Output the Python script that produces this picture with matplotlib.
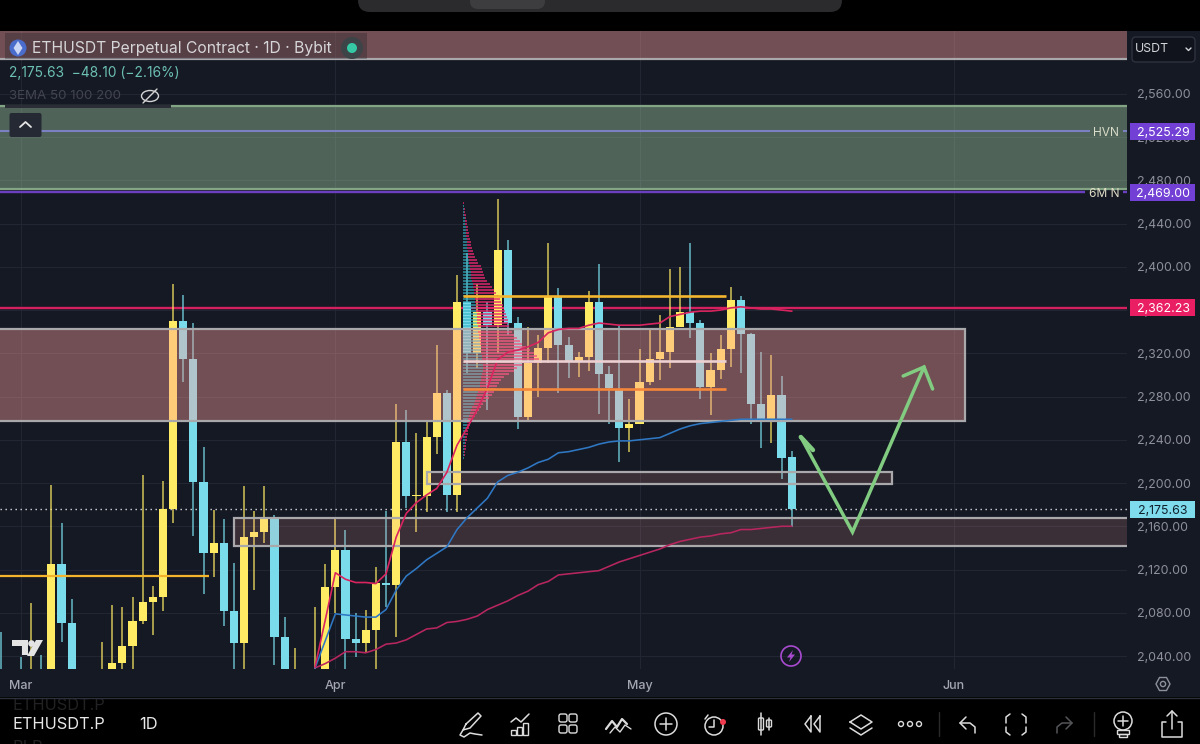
import numpy as np
import matplotlib
matplotlib.use("Agg")
import matplotlib.pyplot as plt
from matplotlib.patches import Rectangle, Circle, Ellipse, FancyBboxPatch, Polygon

plt.rcParams["font.family"] = ["Inter", "DejaVu Sans"]

# ----------------------------
# Daily candles (day 0 = 1 Mar)
# ----------------------------
days = [-2, 0, 1, 2, 3, 4, 5, 8, 9, 10, 11, 12, 13, 14, 15, 16, 17, 18, 19, 20, 21, 22, 23, 24, 25, 26, 27,
        29, 30, 31, 32, 33, 34, 35, 36, 37, 38, 39, 40, 41, 42, 43, 44, 45, 46, 47, 48, 49, 50, 51, 52, 53,
        54, 55, 56, 57, 58, 59, 60, 61, 62, 63, 64, 65, 66, 67, 68, 69, 70, 71, 72, 73, 74, 75, 76]
opens = [2020, 2025, 2015, 2022, 2012, 2125, 2071, 2000, 2020, 2034, 2049, 2072, 2090, 2095, 2176, 2350, 2315, 2201, 2135, 2145, 2082, 2052, 2150, 2155, 2167, 2058, 2000,
         2020, 2026, 2104, 2138, 2056, 2052, 2064, 2108, 2106, 2238, 2188, 2188, 2243, 2283, 2189, 2367, 2320, 2358, 2346, 2416, 2348, 2261, 2311, 2325, 2372,
         2328, 2313, 2317, 2367, 2301, 2286, 2251, 2255, 2293, 2315, 2321, 2344, 2358, 2348, 2289, 2305, 2324, 2369, 2338, 2273, 2256, 2281, 2223.73]
closes = [2010, 2015, 2022, 2012, 2125, 2071, 2015, 2020, 2034, 2049, 2072, 2090, 2095, 2176, 2350, 2315, 2201, 2135, 2145, 2082, 2052, 2150, 2155, 2167, 2058, 2015, 2015,
          2026, 2104, 2138, 2056, 2052, 2064, 2108, 2106, 2238, 2188, 2189, 2243, 2283, 2189, 2367, 2320, 2358, 2346, 2416, 2348, 2261, 2311, 2325, 2372, 2328,
          2313, 2317, 2367, 2301, 2288, 2251, 2255, 2293, 2315, 2321, 2344, 2358, 2348, 2289, 2305, 2324, 2369, 2338, 2273, 2256, 2281, 2223, 2175.63]
highs = [2062, 2039, 2089, 2041, 2198, 2163, 2093, 2053, 2087, 2085, 2095, 2207, 2105, 2202, 2384, 2374, 2348, 2233, 2175, 2167, 2126, 2197, 2174, 2197, 2170, 2076, 2047,
         2085, 2125, 2167, 2157, 2080, 2083, 2122, 2174, 2273, 2268, 2246, 2257, 2328, 2286, 2392, 2413, 2384, 2367, 2463, 2425, 2354, 2344, 2337, 2422, 2380,
         2335, 2321, 2378, 2403, 2308, 2345, 2278, 2324, 2342, 2355, 2398, 2400, 2422, 2351, 2320, 2337, 2381, 2373, 2339, 2321, 2318, 2299, 2230]
lows = [2005, 2005, 2005, 2005, 2005, 2053, 2000, 1990, 2010, 2020, 2020, 2070, 2059, 2082, 2163, 2293, 2151, 2097, 2113, 2068, 2020, 2020, 2101, 2145, 2032, 2000, 1990,
        2010, 2015, 2080, 2020, 2039, 2043, 2020, 2085, 2058, 2177, 2155, 2173, 2227, 2173, 2173, 2302, 2306, 2268, 2320, 2337, 2250, 2257, 2280, 2311, 2283,
        2297, 2298, 2304, 2264, 2255, 2219, 2229, 2255, 2291, 2295, 2306, 2344, 2334, 2278, 2263, 2296, 2307, 2302, 2255, 2232, 2237, 2204, 2159]

# ----------------------------
# EMA lines, one value per day from day 29
# ----------------------------
ema_days = list(range(29, 77))
ema_fast = [2030, 2073, 2117, 2111, 2108, 2108, 2107, 2116, 2150, 2172, 2182, 2189, 2195, 2210, 2235, 2251,
            2268, 2288, 2314, 2321, 2323, 2326, 2330, 2339, 2342, 2343, 2343, 2346, 2348, 2347, 2346, 2346,
            2346, 2347, 2348, 2354, 2356, 2358, 2359, 2359, 2360, 2362, 2363, 2362, 2361, 2361, 2360, 2359]
ema_mid = [2029, 2054, 2079, 2078, 2077, 2076, 2076, 2083, 2101, 2114, 2121, 2129, 2135, 2141, 2157, 2168,
           2177, 2186, 2201, 2207, 2210, 2214, 2219, 2222, 2228, 2229, 2231, 2233, 2236, 2238, 2239, 2239,
           2240, 2241, 2242, 2246, 2250, 2253, 2255, 2256, 2257, 2258, 2259, 2259, 2259, 2259, 2259, 2259]
ema_slow = [2029, 2033, 2038, 2044, 2044, 2043, 2046, 2051, 2052, 2055, 2060, 2065, 2066, 2071, 2072, 2074,
            2077, 2083, 2087, 2091, 2096, 2100, 2106, 2109, 2115, 2116, 2117, 2118, 2119, 2123, 2127, 2130,
            2133, 2136, 2139, 2143, 2146, 2148, 2150, 2151, 2153, 2154, 2157, 2157, 2158, 2159, 2160, 2160]

# ----------------------------
# Volume profile rows, top row first
# ----------------------------
vp_total = [1, 1, 2, 2, 3, 3, 4, 4, 5, 5,
            6, 6, 7, 8, 8, 9, 10, 11, 12, 14,
            15, 18, 19, 20, 21, 22, 24, 27, 29, 31,
            33, 36, 37, 38, 40, 40, 42, 43, 44, 45,
            45, 46, 47, 49, 51, 54, 57, 59, 63, 67,
            71, 74, 76, 77, 59, 54, 51, 46, 41, 38,
            36, 34, 33, 31, 29, 26, 23, 20, 18, 16,
            14, 12, 10, 8, 7, 6, 5, 5, 4, 4,
            3, 3, 3, 2, 2, 1]
vp_up = [0, 1, 1, 1, 1, 2, 2, 2, 3, 3,
         3, 3, 4, 4, 4, 4, 5, 5, 5, 6,
         6, 7, 7, 8, 8, 8, 9, 10, 10, 11,
         11, 12, 12, 12, 13, 13, 13, 14, 14, 14,
         14, 15, 15, 15, 16, 16, 17, 17, 18, 18,
         18, 19, 19, 20, 20, 20, 20, 19, 18, 18,
         17, 17, 16, 15, 14, 13, 12, 11, 9, 8,
         7, 6, 5, 4, 4, 3, 3, 2, 2, 2,
         2, 1, 1, 1, 1, 1]

# ----------------------------
# Levels and zones
# ----------------------------
price_ticks = [2040, 2080, 2120, 2160, 2200, 2240, 2280, 2320, 2360, 2400, 2440, 2480, 2520, 2560]
month_days = [0, 31, 61, 92]
month_labels = ["Mar", "Apr", "May", "Jun"]

last_price = 2175.63
hvn_level = 2525.29
six_m_level = 2469.00
red_level = 2362.23

plan_days = [76.9, 82.0, 89.05]
plan_prices = [2242.6, 2154.7, 2307.3]

BG = "#151924"
YELLOW = "#ffeb64"
TEAL = "#7adcea"
ZONE = (1.0, 0.63, 0.615)
GREY_EDGE = "#a9a9ab"
TICK = "#8e919b"

fig = plt.figure(figsize=(12, 7.44), dpi=100, facecolor=BG)

# chart pane: 10.14 px per day, 1.081 px per price unit
ax = fig.add_axes([0, 75 / 744, 1127 / 1200, 638 / 744], facecolor=BG)
ax.set_xlim(-2.07, 109.07)
ax.set_ylim(2028.0, 2618.1)

for s in ax.spines.values():
    s.set_visible(False)

ax.yaxis.tick_right()
ax.set_yticks(price_ticks)
ax.set_yticklabels([f"{p:,.2f}" for p in price_ticks], fontsize=8.9, color=TICK)
ax.set_xticks(month_days)
ax.set_xticklabels(month_labels, fontsize=9, color="#a4a7b0", fontweight="medium")
ax.tick_params(axis="y", length=0, pad=7.4)
ax.tick_params(axis="x", length=0, pad=7.8)
ax.grid(True, color="#222632", lw=0.8)
ax.set_axisbelow(True)

# ----------------------------
# Levels under the candles
# ----------------------------
ax.axhline(red_level, color="#d5205f", lw=1.7, zorder=1.5)
ax.axhline(last_price, color="#d8dade", lw=1, ls=(0, (1, 2.6)), zorder=1.5)

# ----------------------------
# Candles
# ----------------------------
o = np.array(opens)
c = np.array(closes)
cols = [YELLOW if b >= a else TEAL for a, b in zip(opens, closes)]

ax.vlines(days, lows, highs, colors=cols, lw=1.15, alpha=0.78, zorder=3)
ax.bar(days, np.abs(c - o), bottom=np.minimum(o, c), width=0.8, color=cols, zorder=3.2)

# ----------------------------
# Volume profile
# ----------------------------
vp_prices = 2459 - 2.775 * np.arange(len(vp_total))
vp_left = 43.6
vp_up = np.array(vp_up) / 10.14
vp_total = np.array(vp_total) / 10.14

ax.barh(vp_prices, vp_up, left=vp_left, height=2.1, color="#33b2c4", alpha=0.62, zorder=4, lw=0)
ax.barh(vp_prices, vp_total - vp_up, left=vp_left + vp_up, height=2.1, color="#e8286f", alpha=0.72, zorder=4, lw=0)

# ----------------------------
# Zones
# ----------------------------
def zone(x0, x1, y0, y1, face, alpha, edge, lw=1.6):
    ax.add_patch(Rectangle((x0, y0), x1 - x0, y1 - y0, facecolor=(*face, alpha),
                           edgecolor=edge, lw=lw, zorder=5))

zone(-6, 115, 2592, 2700, ZONE, 0.40, GREY_EDGE)
zone(-6, 115, 2472, 2549, (0.66, 0.83, 0.67), 0.40, "#84a585")
zone(-6, 93.1, 2257.5, 2342.5, ZONE, 0.40, GREY_EDGE)
zone(40.04, 85.9, 2199, 2210, ZONE, 0.16, GREY_EDGE)
zone(21.0, 115, 2142, 2167.6, ZONE, 0.16, GREY_EDGE)

# ----------------------------
# EMAs
# ----------------------------
ax.plot(ema_days, ema_slow, color="#b8265f", lw=1.15, zorder=6)
ax.plot(ema_days, ema_mid, color="#2f78c4", lw=1.15, zorder=6)
ax.plot(ema_days, ema_fast, color="#d9245f", lw=1.2, zorder=6)

# ----------------------------
# Drawn levels
# ----------------------------
ax.hlines(2114, -3, 18.55, color="#f4b52c", lw=1.6, zorder=6)
ax.hlines(2373, 43.6, 69.5, color="#f4b62e", lw=1.9, zorder=6)
ax.hlines(2313, 43.6, 69.5, color="#ecd0d2", lw=1.9, zorder=6)
ax.hlines(2287, 43.6, 69.5, color="#f5873a", lw=1.9, zorder=6)

ax.hlines(hvn_level, -3, 105.4, color="#7b80c2", lw=1.5, zorder=6)
ax.hlines(hvn_level, 108.7, 110, color="#7b80c2", lw=1.5, zorder=6)
ax.hlines(six_m_level, -3, 104.9, color="#6a3fc0", lw=1.7, zorder=6)
ax.hlines(six_m_level, 108.7, 110, color="#6a3fc0", lw=1.7, zorder=6)
ax.text(108.3, hvn_level, "HVN", ha="right", va="center_baseline", fontsize=8.6, color="#d9dcc8", zorder=7)
ax.text(108.3, six_m_level, "6M N", ha="right", va="center_baseline", fontsize=8.6, color="#e2dfc8", zorder=7)

# ----------------------------
# Projected move
# ----------------------------
GREEN = "#82cc82"
ax.plot(plan_days, plan_prices, color=GREEN, lw=2.5, zorder=7, solid_joinstyle="miter", solid_capstyle="round")
ax.plot([plan_days[0], 78.1], [plan_prices[0], 2230.5], color=GREEN, lw=3.2, zorder=7, solid_capstyle="round")
ax.plot([87.0, plan_days[2], 89.9], [2299, plan_prices[2], 2287], color=GREEN, lw=2.5, zorder=7,
        solid_capstyle="round", solid_joinstyle="miter")

# ----------------------------
# Price tags on the scale
# ----------------------------
tag_tf = ax.get_yaxis_transform()

def tag(price, face, txt_col):
    ax.add_patch(Rectangle((1129.5 / 1127, price - 8), 65.5 / 1127, 16, transform=tag_tf, facecolor=face,
                           edgecolor="none", zorder=19, clip_on=False))
    ax.text(1163 / 1127, price, f"{price:,.2f}", transform=tag_tf, ha="center", va="center_baseline",
            fontsize=8.9, color=txt_col, zorder=20, clip_on=False)

tag(hvn_level, "#7240d4", "#ffffff")
tag(six_m_level, "#7240d4", "#ffffff")
tag(red_level, "#e91e63", "#ffffff")
tag(last_price, "#7fdcec", "#10202c")

# ----------------------------
# App chrome, in screen pixels
# ----------------------------
ui = fig.add_axes([0, 0, 1, 1], facecolor="none", zorder=5)
ui.set_xlim(0, 1200)
ui.set_ylim(744, 0)
ui.axis("off")

ICON = "#dcdcdc"

def line(xs, ys, col=ICON, lw=1.1, z=5):
    ui.plot(xs, ys, color=col, lw=lw, zorder=z, solid_capstyle="round", solid_joinstyle="round")

def round_box(x, y, w, h, face, edge="none", r=3, z=3, lw=1.0):
    ui.add_patch(FancyBboxPatch((x, y), w, h, boxstyle=f"round,pad=0,rounding_size={r}",
                                facecolor=face, edgecolor=edge, lw=lw, zorder=z))

def ring(x, y, r, col=ICON, lw=1.1, z=5):
    ui.add_patch(Circle((x, y), r, facecolor="none", edgecolor=col, lw=lw, zorder=z))

# top status strip
ui.add_patch(Rectangle((0, 0), 1200, 31, facecolor="#000000", zorder=2))
round_box(358, -20, 484, 32, "#2b2b2d", r=12)
round_box(470, -20, 75, 29, "#3d3d40", r=8, z=4)

# header with symbol, last price and indicators
ui.add_patch(Rectangle((5, 33), 362, 26, facecolor="#1a1d28", alpha=0.3, zorder=2))
ui.add_patch(Rectangle((5, 105), 166, 3, facecolor="#2a2d36", zorder=2))
ui.add_patch(Circle((18, 48), 8.5, facecolor="#4a6ccb", zorder=4))
ui.add_patch(Polygon([(18, 41), (22.5, 48), (18, 55), (13.5, 48)], facecolor="#c9d6f5", zorder=5))
ui.text(32, 48.5, "ETHUSDT Perpetual Contract · 1D · Bybit", fontsize=11.3, color="#d6d6d8", va="center", zorder=5)
ui.add_patch(Circle((352, 48), 11, facecolor="#3c4448", zorder=4))
ui.add_patch(Circle((352, 48), 5, facecolor="#35c9a6", zorder=5))
ui.text(9, 72.5, "2,175.63  −48.10 (−2.16%)", fontsize=9.9, color="#6cc0b4", va="center", zorder=5)
ui.text(9, 96, "3EMA 50 100 200", fontsize=9.6, color="#43464f", va="center", zorder=5)
ui.add_patch(Ellipse((150, 96), 17, 11, facecolor="none", edgecolor="#d4d4d4", lw=1, zorder=5))
line([143, 157], [103, 89], "#d4d4d4", 1.0)
round_box(9.5, 113, 32, 24, "#252933", r=2)
line([20, 25.5, 31], [127, 122, 127], "#e6e6e6", 1.3)

# currency selector
round_box(1132, 37, 63, 25, "#10131b", "#2e323e", r=4, lw=1.0)
ui.text(1135, 49, "USDT", fontsize=8.9, color="#d3d5da", va="center", zorder=5)
line([1186, 1188.5, 1191], [48, 50.5, 48], "#d3d5da", 1.0)

# chart watermark and replay badge
ui.add_patch(Polygon([(12, 640), (28, 640), (28, 655), (22, 655), (22, 646), (12, 646)], facecolor="#e4e4e4", zorder=4))
ui.add_patch(Circle((31.5, 643.5), 3.3, facecolor="#e4e4e4", zorder=4))
ui.add_patch(Polygon([(36, 640), (43, 640), (34, 656), (27, 656)], facecolor="#e4e4e4", zorder=4))
ring(791, 656, 10, "#a94bd0", 1.2)
ui.add_patch(Polygon([(793, 650), (787, 657.5), (790.5, 657.5), (789, 662), (795, 654.5), (791.5, 654.5)],
                     facecolor="#a94bd0", zorder=5))
# settings hexagon on the time scale
ui.add_patch(Polygon([(1156, 684), (1159.5, 677.5), (1166.5, 677.5), (1170, 684), (1166.5, 690.5), (1159.5, 690.5)],
                     facecolor="none", edgecolor="#8e919b", lw=1, zorder=5))
ring(1163, 684, 2.6, "#8e919b", 1.0)

# bottom toolbar
ui.add_patch(Rectangle((0, 697), 1200, 47, facecolor="#000000", zorder=2))
ui.plot([0, 1200], [697.5, 697.5], color="#2c303b", lw=1, zorder=3)
ghost = ui.text(12, 706, "ETHUSDT.P", fontsize=11.8, color="#222224", va="center", zorder=2.2)
ghost.set_clip_path(Rectangle((0, 698), 1200, 46, transform=ui.transData))
ghost.set_clip_on(True)
ui.text(12, 748, "BLP", fontsize=11.8, color="#222224", va="center", zorder=2.2, clip_on=True)
ui.text(12, 724.5, "ETHUSDT.P", fontsize=11.8, color="#e8e8e8", va="center", zorder=5)
ui.text(139, 724.5, "1D", fontsize=11.8, color="#e8e8e8", va="center", zorder=5)

# pen
line([466, 478, 481, 470, 463, 466], [724, 713, 716, 728, 730, 724])
line([463, 460, 464, 470, 475, 482], [730, 735, 737, 733, 734, 735])
# indicators
line([511, 516, 521, 529], [722, 718, 722, 714])
for bx, bh in zip([511, 517, 523], [5, 8, 12]):
    ui.add_patch(Rectangle((bx, 735 - bh), 4.5, bh, facecolor="none", edgecolor=ICON, lw=1, zorder=5))
# layouts grid
for gx in [559, 569]:
    for gy in [714, 725]:
        round_box(gx, gy, 8, 8, "none", ICON, r=2, z=5)
# drawing tools
line([606, 612, 617, 622, 627], [729, 721, 727, 719, 724], lw=1.6)
line([610, 615, 620, 625, 631], [733, 727, 732, 725, 729], lw=1.0)
# add symbol
ring(666, 724, 11)
line([660, 672], [724, 724])
line([666, 666], [718, 730])
# alarm
ring(714, 726, 9)
line([714, 714, 709], [720, 727, 727])
line([705, 708], [719, 715])
ui.add_patch(Circle((723, 722), 3, facecolor="#f03a4d", zorder=6))
# candle type
line([761, 761], [713, 735])
round_box(758.5, 718, 5, 12, "none", ICON, r=1, z=5)
line([769, 769], [718, 730])
round_box(766.5, 720, 5, 7, "none", ICON, r=1, z=5)
# replay
line([811, 805, 811, 811], [716, 724, 732, 716])
line([820, 814, 820, 820], [716, 724, 732, 716])
# layers
line([850, 861, 872, 861, 850], [722, 715, 722, 729, 722])
line([850, 861, 872], [728, 735, 728])
# more
for mx in [901, 910, 919]:
    ring(mx, 724, 2.5, ICON, 1.0)
line([939, 939], [712, 736], "#2a2a2a", 1.0)
# undo
line([966, 960, 966], [717, 723, 729])
line([960, 970, 975, 975], [723, 723, 727, 733])
# fullscreen corners
line([1006, 1006, 1010], [723, 717, 714])
line([1022, 1026, 1026], [714, 717, 723])
line([1006, 1006, 1010], [727, 732, 735])
line([1022, 1026, 1026], [735, 732, 727])
# redo
line([1066, 1072, 1066], [717, 723, 729], "#55565a")
line([1072, 1062, 1057, 1057], [723, 723, 727, 733], "#55565a")
line([1094, 1094], [712, 736], "#2a2a2a", 1.0)
# ideas
ring(1123, 721, 9)
line([1118, 1128], [721, 721])
line([1123, 1123], [716, 726])
ui.add_patch(Rectangle((1117, 730), 12, 4, facecolor="none", edgecolor=ICON, lw=1, zorder=5))
ui.add_patch(Rectangle((1119, 734), 8, 3, facecolor="none", edgecolor=ICON, lw=1, zorder=5))
# share
line([1166, 1162, 1162, 1182, 1182, 1178], [722, 722, 737, 737, 722, 722])
line([1172, 1172], [729, 711])
line([1167, 1172, 1177], [716, 711, 716])

fig.savefig("out.png", dpi=100, facecolor=BG)
